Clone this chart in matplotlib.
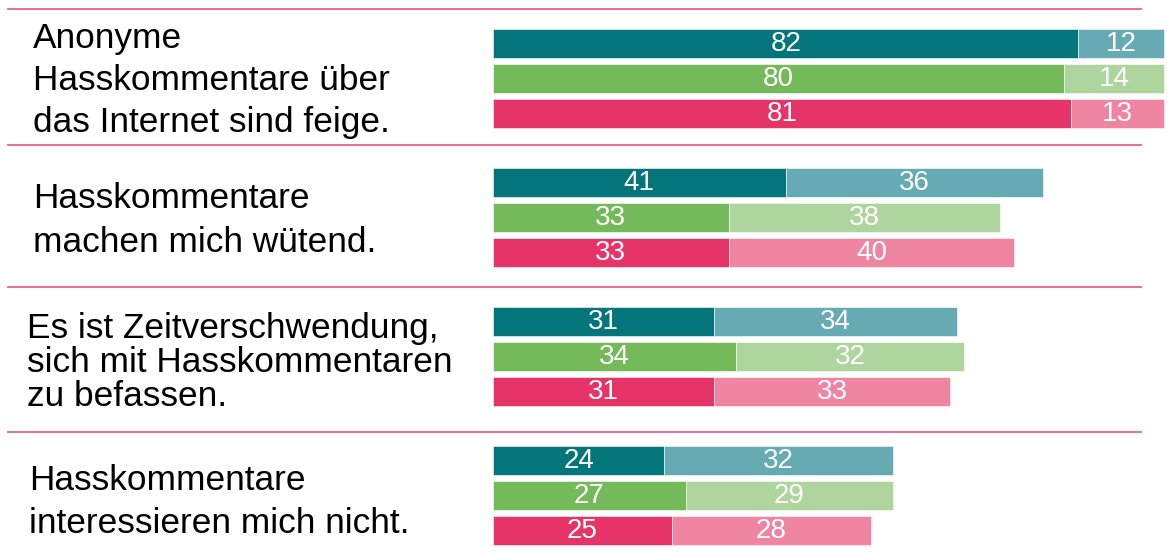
import matplotlib
matplotlib.use("Agg")
import matplotlib.pyplot as plt
from matplotlib.lines import Line2D

# ---- data ----
statements = [
    "Anonyme\nHasskommentare über\ndas Internet sind feige.",
    "Hasskommentare\nmachen mich wütend.",
    "Es ist Zeitverschwendung,\nsich mit Hasskommentaren\nzu befassen.",
    "Hasskommentare\ninteressieren mich nicht.",
]
# three series per statement: strong agreement (first) and partial agreement (second)
teal_strong = [82, 41, 31, 24]
teal_partial = [12, 36, 34, 32]
green_strong = [80, 33, 34, 27]
green_partial = [14, 38, 32, 29]
pink_strong = [81, 33, 31, 25]
pink_partial = [13, 40, 33, 28]

series = [
    (teal_strong, teal_partial, "#03757B", "#66ABB3"),
    (green_strong, green_partial, "#75BA5A", "#ADD59D"),
    (pink_strong, pink_partial, "#E63368", "#F084A3"),
]

# ---- layout (pixels) ----
W, H = 1174, 557
fig = plt.figure(figsize=(W / 100, H / 100), dpi=100)
x0_px = 493
px_per_unit = 7.14
ax = fig.add_axes([x0_px / W, 0, 1 - x0_px / W, 1])
ax.set_xlim(0, (W - x0_px) / px_per_unit)
ax.set_ylim(H, 0)
ax.axis("off")

group_centers = [78, 217, 356, 495]
bar_offsets = [-35, 0, 35]
bar_h = 29

num_font = dict(family=["Liberation Sans Narrow", "Liberation Sans"], size=20, color="white")

for g, gc in enumerate(group_centers):
    for s, (strong, partial, c1, c2) in enumerate(series):
        y = gc + bar_offsets[s]
        a, b = strong[g], partial[g]
        ax.barh(y, a, height=bar_h, left=0, color=c1, edgecolor="white", linewidth=0.4)
        ax.barh(y, b, height=bar_h, left=a, color=c2, edgecolor="white", linewidth=0.4)
        ax.text(a / 2, y + 1, str(a), ha="center", va="center", **num_font)
        ax.text(a + b / 2, y + 1, str(b), ha="center", va="center", **num_font)

# separator lines
for yl in [9, 145, 287, 432]:
    fig.add_artist(Line2D([8 / W, 1141 / W], [1 - yl / H, 1 - yl / H],
                          transform=fig.transFigure, color="#E8628A", lw=1.3))

# statement labels (one text per line, baseline-aligned)
text_x = [33, 33, 27, 29]
baselines = [[48, 90, 132], [208, 252], [338, 372, 406], [490, 533]]
for g, st in enumerate(statements):
    for line, bl in zip(st.split("\n"), baselines[g]):
        fig.text(text_x[g] / W, 1 - bl / H, line, ha="left", va="baseline",
                 family=["Liberation Sans", "DejaVu Sans"], size=25.4, color="black")

fig.savefig("out.png", dpi=100)
